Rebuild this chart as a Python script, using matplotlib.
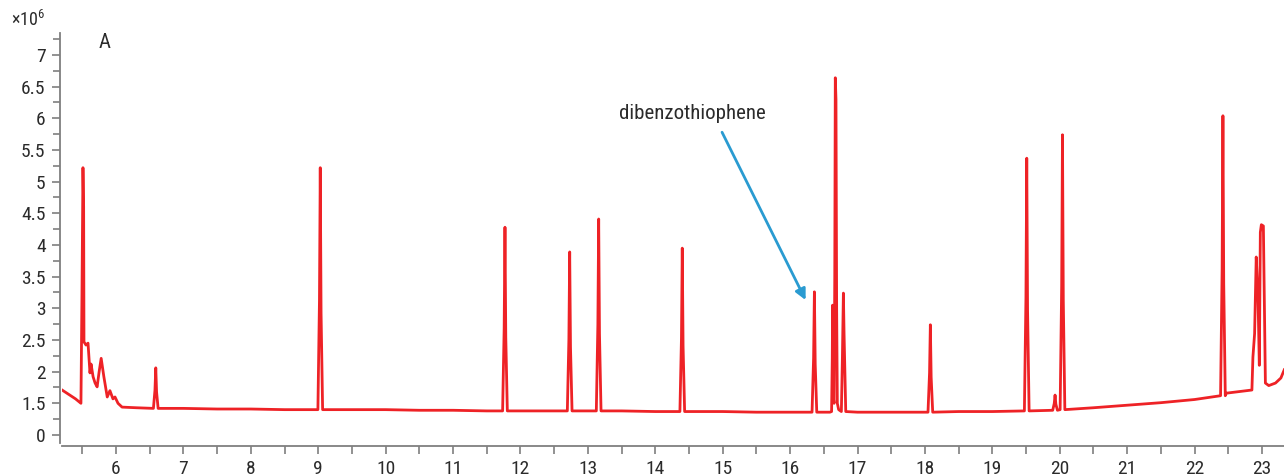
import matplotlib
matplotlib.use("Agg")
import matplotlib.pyplot as plt
from matplotlib.ticker import MultipleLocator

plt.rcParams['font.family'] = ['Roboto Condensed', 'Liberation Sans Narrow', 'Roboto', 'DejaVu Sans']
plt.rcParams['mathtext.fontset'] = 'custom'
plt.rcParams['mathtext.rm'] = 'Roboto Condensed'

# retention time (min) and abundance (x10^6)
base_rt = [5.20, 5.30, 5.40, 5.48, 6.09, 6.30, 6.55, 7.00, 7.50, 8.00, 8.50, 8.95,
           9.50, 10.0, 10.5, 11.0, 11.5, 12.0, 12.5, 13.0, 13.5, 14.0, 14.5, 15.0,
           15.5, 16.0, 16.3, 17.0, 17.5, 18.0, 18.5, 19.0, 19.45, 20.0, 20.5, 21.0,
           21.5, 22.0, 22.38, 22.47, 22.7, 22.85]
base_ab = [1.71, 1.64, 1.57, 1.50, 1.44, 1.43, 1.42, 1.42, 1.41, 1.41, 1.40, 1.40,
           1.40, 1.40, 1.39, 1.39, 1.38, 1.38, 1.38, 1.38, 1.38, 1.37, 1.37, 1.37,
           1.36, 1.36, 1.36, 1.36, 1.36, 1.36, 1.37, 1.37, 1.38, 1.40, 1.43, 1.47,
           1.51, 1.56, 1.62, 1.66, 1.69, 1.71]

# first eluting cluster near 5.5-6.1 min
front_rt = [5.495, 5.51, 5.52, 5.525, 5.555, 5.585, 5.614, 5.63, 5.66, 5.69, 5.72,
            5.75, 5.78, 5.82, 5.87, 5.91, 5.955, 5.985, 6.03]
front_ab = [3.20, 5.22, 4.60, 2.47, 2.42, 2.45, 1.98, 2.12, 1.92, 1.82, 1.76,
            2.00, 2.21, 1.92, 1.60, 1.70, 1.57, 1.60, 1.50]

# group of three close peaks around 16.6-16.8 min
mid_rt = [16.59, 16.615, 16.625, 16.63, 16.64, 16.652, 16.662, 16.67, 16.68, 16.69,
          16.70, 16.72, 16.76, 16.775, 16.79, 16.80, 16.825]
mid_ab = [1.36, 1.37, 2.20, 3.05, 1.60, 1.50, 3.50, 6.64, 6.30, 3.00,
          1.50, 1.40, 1.37, 2.20, 3.24, 2.60, 1.37]

# isolated peaks: apex time, apex height, baseline under it
peak_rt = [6.59, 9.03, 11.77, 12.73, 13.16, 14.40, 16.36, 18.08, 19.51, 19.93,
           20.04, 22.42]
peak_ab = [2.06, 5.22, 4.28, 3.89, 4.41, 3.95, 3.26, 2.74, 5.37, 1.63,
           5.74, 6.04]
peak_base = [1.42, 1.40, 1.38, 1.38, 1.38, 1.37, 1.36, 1.36, 1.38, 1.39,
             1.40, 1.62]

# late cluster near 22.9-23.3 min
tail_rt = [22.865, 22.89, 22.914, 22.94, 22.96, 22.975, 22.99, 23.02, 23.035, 23.05,
           23.10, 23.20, 23.28, 23.33]
tail_ab = [2.23, 2.60, 3.81, 3.20, 2.10, 4.20, 4.32, 4.30, 3.00, 1.82,
           1.78, 1.82, 1.90, 2.03]

rt = list(base_rt) + front_rt + mid_rt + tail_rt
ab = list(base_ab) + front_ab + mid_ab + tail_ab
for t, h, b in zip(peak_rt, peak_ab, peak_base):
    rt += [t - 0.035, t - 0.012, t, t + 0.012, t + 0.035]
    ab += [b, b + (h - b) * 0.45, h, b + (h - b) * 0.4, b]
pts = sorted(zip(rt, ab))
rt = [p[0] for p in pts]
ab = [p[1] for p in pts]

ytick_pos = [1, 1.5, 2, 2.5, 3, 3.5, 4, 4.5, 5, 5.5, 6, 6.5, 7]
ytick_lab = ['0', '1.5', '2', '2.5', '3', '3.5', '4', '4.5', '5', '5.5', '6', '6.5', '7']
xtick_pos = list(range(6, 24))

fig = plt.figure(figsize=(12.84, 4.76), dpi=100)
ax = fig.add_axes([62 / 1284, 30 / 476, 1222 / 1284, 413 / 476])
ax.plot(rt, ab, color='#ee2226', lw=2, solid_joinstyle='round')

ax.set_xlim(5.199, 23.326)
ax.set_ylim(0.826, 7.347)

grey = '#7f7f7f'
txt = '#2b2b2b'
for s in ['top', 'right']:
    ax.spines[s].set_visible(False)
ax.spines['left'].set_position(('outward', 1.8))
ax.spines['left'].set_bounds(0.874, 7.347)
for s in ['left', 'bottom']:
    ax.spines[s].set_color(grey)
    ax.spines[s].set_linewidth(1.3)

ax.set_yticks(ytick_pos)
ax.set_yticklabels(ytick_lab)
ax.yaxis.set_minor_locator(MultipleLocator(0.25))
ax.set_xticks(xtick_pos)
ax.xaxis.set_minor_locator(MultipleLocator(0.5))
ax.tick_params(axis='y', which='major', length=6, width=1.2, color=grey,
               labelsize=14, labelcolor=txt, pad=4)
ax.tick_params(axis='y', which='minor', length=5, width=1.2, color=grey)
ax.tick_params(axis='x', which='both', length=6, width=1.2, color=grey,
               labelsize=14, labelcolor=txt, pad=4)

fig.text(11 / 1284, 1 - 20 / 476, r'$\times10^{6}$', fontsize=13, color=txt,
         va='center', ha='left')
fig.text(105 / 1284, 1 - 43 / 476, 'A', fontsize=15, color=txt, va='center', ha='center')

ax.text(14.546, 6.08, 'dibenzothiophene', fontsize=15, color=txt, ha='center', va='center')
ax.annotate('', xy=(16.23, 3.13), xytext=(14.99, 5.78),
            arrowprops=dict(arrowstyle='-|>', color='#2a9bd1', lw=2,
                            mutation_scale=16, shrinkA=0, shrinkB=0))

fig.savefig('out.png', dpi=100)
